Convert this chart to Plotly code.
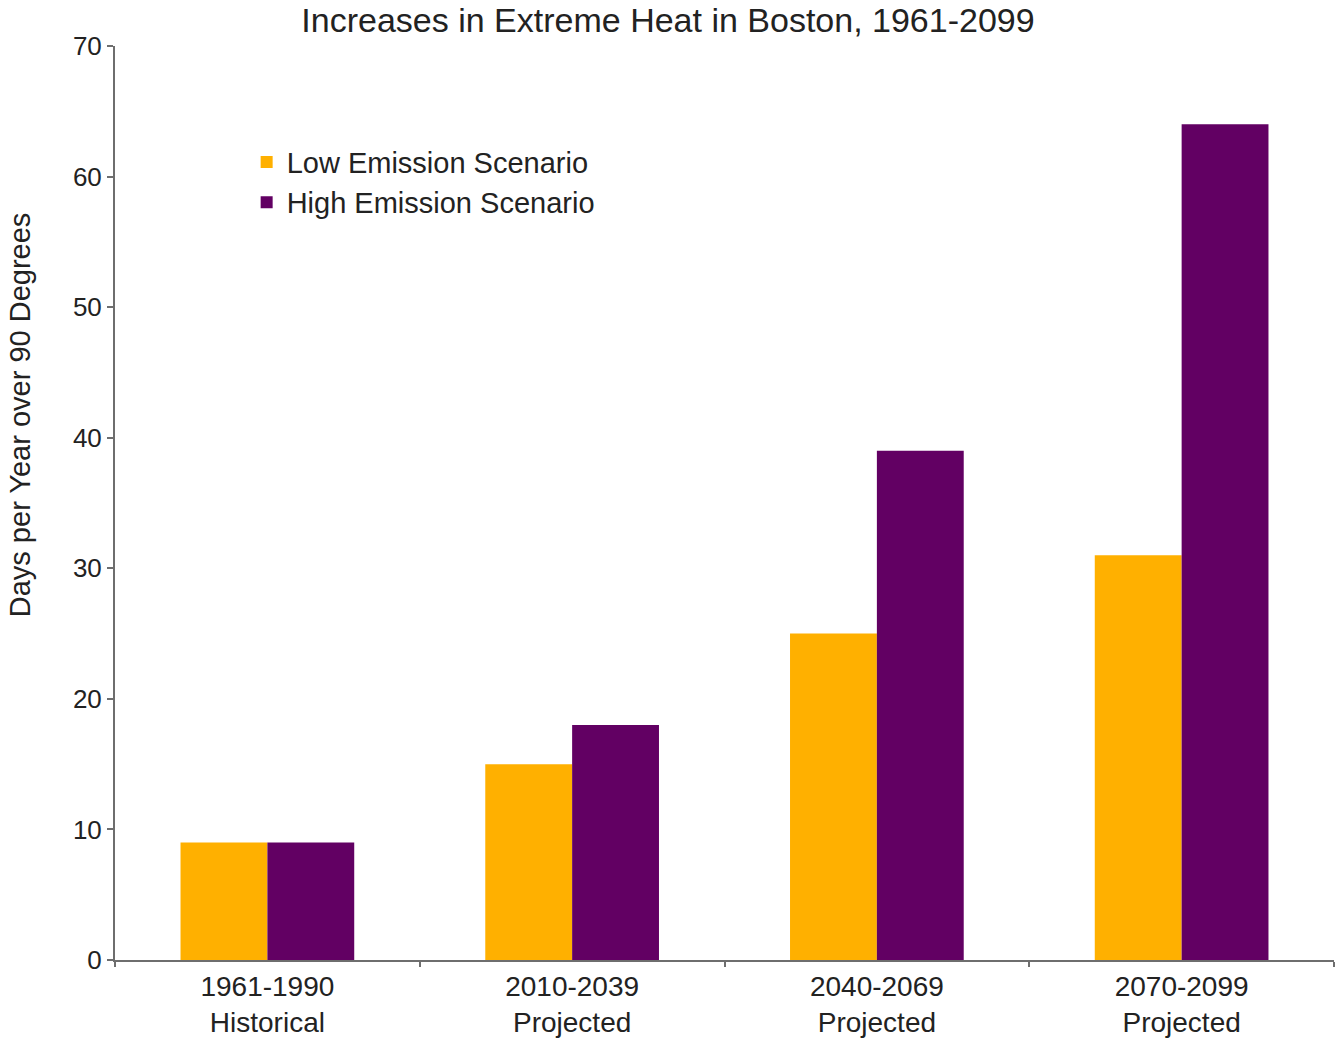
import plotly.graph_objects as go

# Period categories (two-line tick labels)
periods = ["1961-1990<br>Historical", "2010-2039<br>Projected",
           "2040-2069<br>Projected", "2070-2099<br>Projected"]

# Days per year above 90 degrees F
low_emission = [9, 15, 25, 31]
high_emission = [9, 18, 39, 64]

y_ticks = [0, 10, 20, 30, 40, 50, 60, 70]

FONT = "Liberation Sans, Arial, sans-serif"
TEXT = "#222222"
AXIS = "#6e6e6e"

fig = go.Figure()
fig.add_trace(go.Bar(
    x=periods, y=low_emission, name="Low Emission Scenario",
    marker=dict(color="#FFB000", line=dict(width=0)), legend="legend",
))
fig.add_trace(go.Bar(
    x=periods, y=high_emission, name="High Emission Scenario",
    marker=dict(color="#620063", line=dict(width=0)), legend="legend2",
))

legend_style = dict(
    font=dict(family=FONT, size=29, color=TEXT),
    bgcolor="rgba(0,0,0,0)", borderwidth=0,
    xanchor="left", yanchor="middle", itemclick=False,
)

fig.update_layout(
    width=1336, height=1038,
    margin=dict(l=115, r=2, t=46, b=78),
    paper_bgcolor="white", plot_bgcolor="white",
    barmode="group", bargap=0.43, bargroupgap=0,
    title=dict(
        text="Increases in Extreme Heat in Boston, 1961-2099",
        font=dict(family=FONT, size=34, color=TEXT),
        x=0.5, xref="container", xanchor="center",
        y=1 - 20 / 1038, yref="container", yanchor="middle",
    ),
    legend=dict(x=0.108, y=0.873, **legend_style),
    legend2=dict(x=0.108, y=0.829, **legend_style),
    showlegend=True,
    xaxis=dict(
        type="category", automargin=False,
        showgrid=False, zeroline=False,
        showline=True, linecolor=AXIS, linewidth=2,
        ticks="outside", tickson="boundaries", ticklen=5, tickcolor=AXIS, tickwidth=2,
        tickfont=dict(family=FONT, size=28, color=TEXT),
    ),
    yaxis=dict(
        range=[0, 70], tickvals=y_ticks, automargin=False,
        showgrid=False, zeroline=False,
        showline=True, linecolor=AXIS, linewidth=2,
        ticks="outside", ticklen=6, tickcolor=AXIS, tickwidth=2,
        tickfont=dict(family=FONT, size=26, color=TEXT),
    ),
    annotations=[dict(
        text="Days per Year over 90 Degrees",
        textangle=-90, showarrow=False,
        xref="paper", yref="paper",
        x=-0.078, y=0.597, xanchor="center", yanchor="middle",
        font=dict(family=FONT, size=29, color=TEXT),
    )],
)

fig.write_html("out.html")
